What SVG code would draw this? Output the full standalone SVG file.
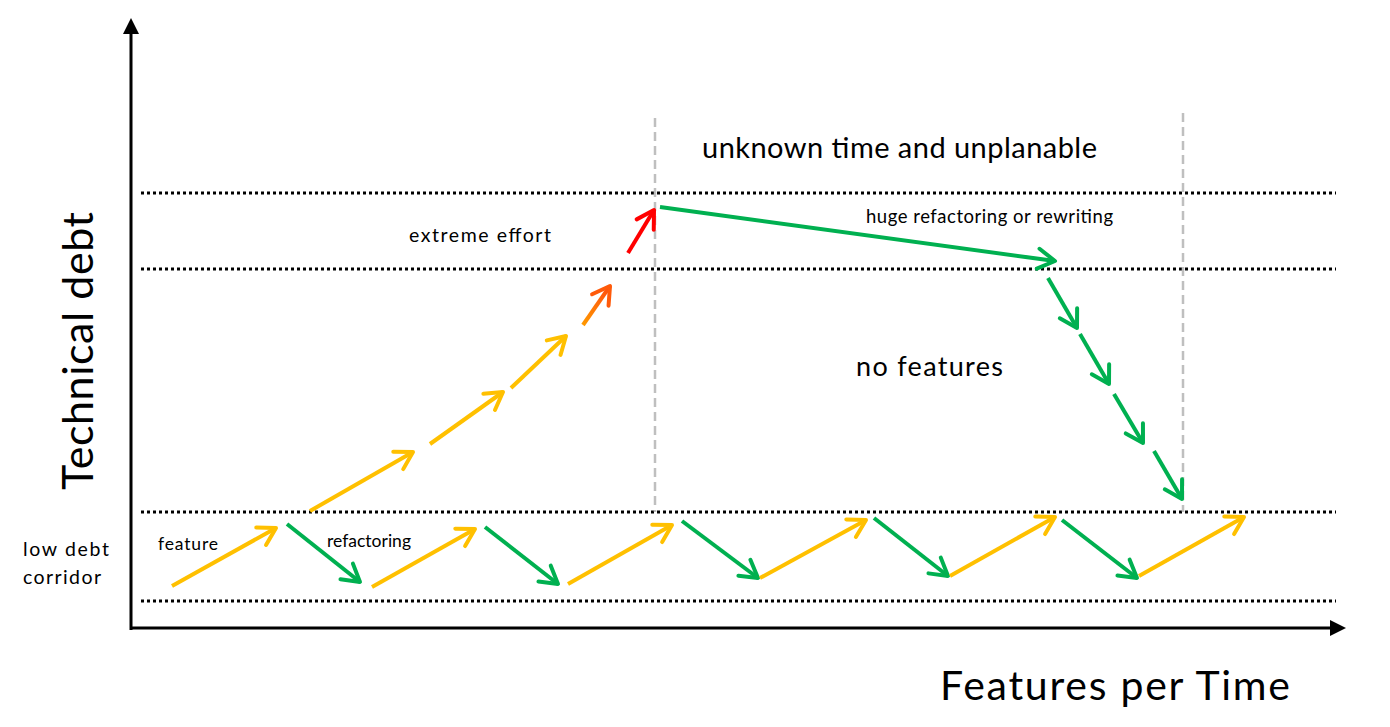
<svg xmlns="http://www.w3.org/2000/svg" width="1390" height="727" viewBox="0 0 1390 727">
<style>
  text { font-family: Lato, "Liberation Sans", sans-serif; fill: #000; }
  .dot { stroke: #000; stroke-width: 3; stroke-dasharray: 3 3; fill: none; }
  .vdash { stroke: #bfbfbf; stroke-width: 2.5; stroke-dasharray: 9 5; fill: none; }
  .y { stroke: #FFC000; stroke-width: 4; fill: none; marker-end: url(#ay); }
  .g { stroke: #00B050; stroke-width: 4; fill: none; marker-end: url(#ag); }
  .r { stroke: #FF0000; stroke-width: 4; fill: none; marker-end: url(#ar); }
  .o { stroke: url(#og); stroke-width: 4; fill: none; marker-end: url(#ao); }
  .axis { stroke: #000; stroke-width: 3; fill: none; }
</style>
<defs>
  <marker id="ay" markerUnits="userSpaceOnUse" viewBox="-20 -12 24 24" refX="0" refY="0" markerWidth="24" markerHeight="24" orient="auto" overflow="visible">
    <path d="M-17,-10 L0,0 L-17,10" stroke="#FFC000" stroke-width="4" fill="none" stroke-linecap="round" stroke-linejoin="round"/>
  </marker>
  <marker id="ag" markerUnits="userSpaceOnUse" viewBox="-20 -12 24 24" refX="0" refY="0" markerWidth="24" markerHeight="24" orient="auto" overflow="visible">
    <path d="M-17,-10 L0,0 L-17,10" stroke="#00B050" stroke-width="4" fill="none" stroke-linecap="round" stroke-linejoin="round"/>
  </marker>
  <marker id="ar" markerUnits="userSpaceOnUse" viewBox="-20 -12 24 24" refX="0" refY="0" markerWidth="24" markerHeight="24" orient="auto" overflow="visible">
    <path d="M-17,-10 L0,0 L-17,10" stroke="#FF0000" stroke-width="4" fill="none" stroke-linecap="round" stroke-linejoin="round"/>
  </marker>
  <marker id="ao" markerUnits="userSpaceOnUse" viewBox="-20 -12 24 24" refX="0" refY="0" markerWidth="24" markerHeight="24" orient="auto" overflow="visible">
    <path d="M-17,-10 L0,0 L-17,10" stroke="#FF5A0A" stroke-width="4" fill="none" stroke-linecap="round" stroke-linejoin="round"/>
  </marker>
  <linearGradient id="og" gradientUnits="userSpaceOnUse" x1="583" y1="325" x2="610" y2="286">
    <stop offset="0" stop-color="#FF9900"/>
    <stop offset="1" stop-color="#FF4A10"/>
  </linearGradient>
  <marker id="axh" markerUnits="userSpaceOnUse" viewBox="0 0 20 20" refX="2" refY="10" markerWidth="20" markerHeight="20" orient="auto" overflow="visible">
    <path d="M0,2 L16,10 L0,18 Z" fill="#000"/>
  </marker>
</defs>

<g id="axes">
  <line class="axis" x1="131" y1="630" x2="131" y2="32" marker-end="url(#axh)"/>
  <line class="axis" x1="130" y1="628" x2="1332" y2="628" marker-end="url(#axh)"/>
</g>

<g id="guides">
  <line class="dot" x1="141" y1="193" x2="1336" y2="193"/>
  <line class="dot" x1="141" y1="269" x2="1336" y2="269"/>
  <line class="dot" x1="141" y1="512" x2="1336" y2="512"/>
  <line class="dot" x1="141" y1="601" x2="1336" y2="601"/>
  <line class="vdash" x1="655" y1="118" x2="655" y2="512"/>
  <line class="vdash" x1="1183" y1="113" x2="1183" y2="512"/>
</g>

<g id="connectors">
  <line class="y" x1="172" y1="586" x2="276" y2="528"/>
  <line class="g" x1="287" y1="524" x2="360" y2="582"/>
  <line class="y" x1="372" y1="587" x2="475" y2="529"/>
  <line class="g" x1="485" y1="527" x2="558" y2="584"/>
  <line class="y" x1="568" y1="584" x2="672" y2="525"/>
  <line class="g" x1="682" y1="521" x2="758" y2="578"/>
  <line class="y" x1="760" y1="578" x2="866" y2="520"/>
  <line class="g" x1="874" y1="518" x2="948" y2="576"/>
  <line class="y" x1="950" y1="576" x2="1055" y2="517"/>
  <line class="g" x1="1062" y1="520" x2="1137" y2="578"/>
  <line class="y" x1="1139" y1="576" x2="1244" y2="517"/>

  <line class="y" x1="310" y1="511" x2="413" y2="452"/>
  <line class="y" x1="430" y1="444" x2="503" y2="392"/>
  <line class="y" x1="511" y1="388" x2="566" y2="336"/>
  <line class="o" x1="583" y1="325" x2="610" y2="286"/>
  <line class="r" x1="628" y1="253" x2="654" y2="210"/>

  <line class="g" x1="660" y1="207" x2="1055" y2="261"/>
  <line class="g" x1="1048" y1="278" x2="1077" y2="328"/>
  <line class="g" x1="1080" y1="334" x2="1109" y2="384"/>
  <line class="g" x1="1114" y1="394" x2="1143" y2="443"/>
  <line class="g" x1="1154" y1="451" x2="1182" y2="499"/>
</g>

<g id="labels">
  <text x="702" y="158" font-size="29" textLength="395">unknown time and unplanable</text>
  <text x="866" y="223" font-size="18.5" textLength="247">huge refactoring or rewriting</text>
  <text x="409" y="242" font-size="19.5" textLength="142">extreme effort</text>
  <text x="856" y="376" font-size="27" textLength="147">no features</text>
  <text x="158" y="550" font-size="17.5" textLength="60">feature</text>
  <text x="327" y="547" font-size="17.5" textLength="84">refactoring</text>
  <text x="23" y="556" font-size="19.5" textLength="86">low debt</text>
  <text x="23" y="584" font-size="19.5" textLength="78">corridor</text>
  <text transform="translate(93,490) rotate(-90)" font-size="43" textLength="278">Technical debt</text>
  <text x="940" y="700" font-size="41" textLength="350">Features per Time</text>
</g>
</svg>
